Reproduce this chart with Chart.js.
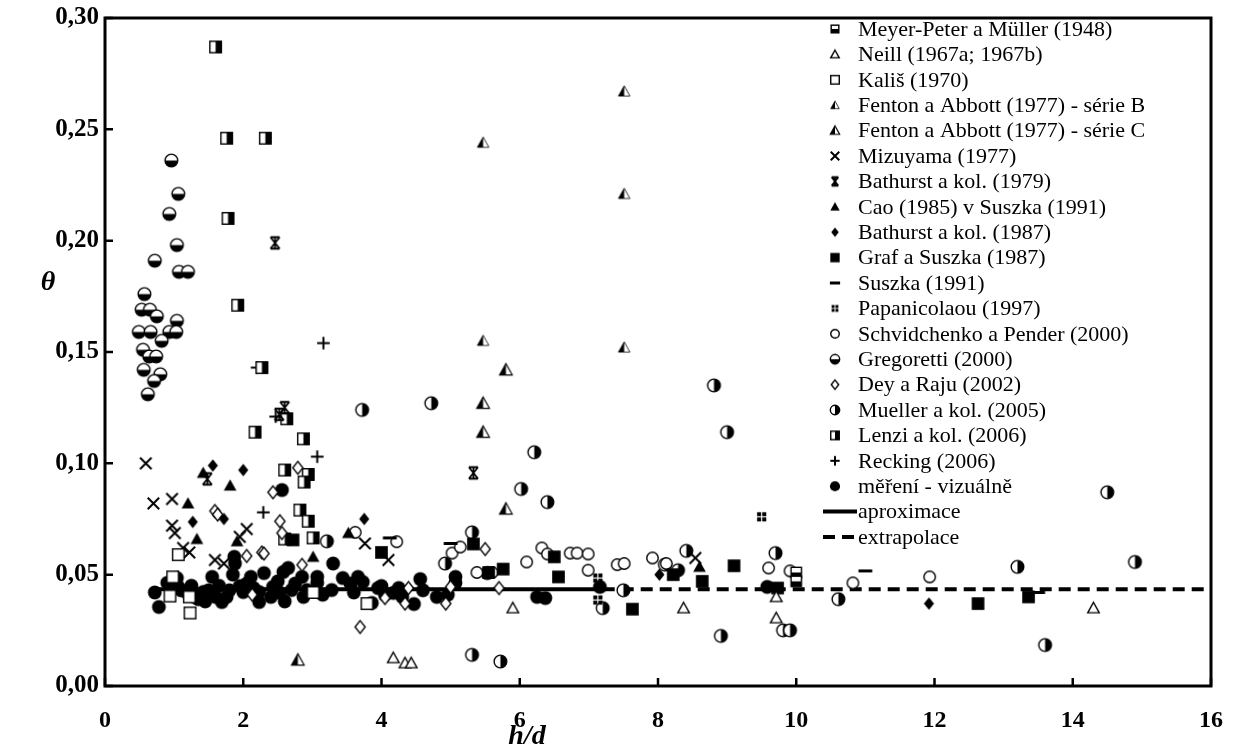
<!DOCTYPE html>
<html>
<head>
<meta charset="utf-8">
<script src="https://cdn.jsdelivr.net/npm/chart.js@4"></script>
<style>
  body { margin: 0; background: #fff; }
  #wrap { width: 1238px; height: 753px; }
</style>
</head>
<body>
<div id="wrap"><canvas id="chart" width="1238" height="753"></canvas></div>
<script>
// data: [h/d, theta]
const meyerPeter = [[10.0, 0.051], [10.0, 0.047]];
const neill = [[4.17, 0.0126], [4.34, 0.0103], [4.43, 0.0103], [5.9, 0.035], [8.37, 0.035], [9.71, 0.040], [9.71, 0.0305], [14.3, 0.035]];
const kalis = [[1.06, 0.059], [0.98, 0.049], [0.94, 0.0404], [1.23, 0.0328], [1.22, 0.040], [3.01, 0.042], [3.79, 0.037]];
const fentonB = [[5.47, 0.244], [7.51, 0.267], [7.51, 0.221], [5.47, 0.155], [7.51, 0.152]];
const fentonC = [[5.8, 0.142], [5.47, 0.127], [5.47, 0.114], [5.8, 0.0795], [2.79, 0.0117]];
const mizuyama = [[0.59, 0.100], [0.70, 0.082], [0.97, 0.084], [0.97, 0.072], [1.01, 0.0687], [1.13, 0.062], [1.22, 0.060], [1.59, 0.0566], [1.72, 0.055], [2.05, 0.0705], [1.95, 0.067], [3.76, 0.064], [4.1, 0.0566], [8.54, 0.0575]];
const bathurst79 = [[2.46, 0.199], [2.6, 0.125], [5.33, 0.0957], [1.48, 0.093], [2.52, 0.122]];
const cao = [[1.42, 0.0957], [1.81, 0.090], [1.2, 0.082], [1.33, 0.066], [1.91, 0.065], [3.01, 0.058], [3.52, 0.0687], [8.6, 0.0535]];
const bathurst87 = [[1.56, 0.099], [2.0, 0.097], [1.27, 0.0737], [1.72, 0.075], [3.75, 0.075], [8.02, 0.050], [11.92, 0.037]];
const grafSuszka = [[2.72, 0.0656], [4.0, 0.060], [5.33, 0.0638], [5.76, 0.0525], [6.5, 0.058], [6.56, 0.049], [7.63, 0.0345], [8.22, 0.050], [9.1, 0.054], [8.64, 0.047], [9.73, 0.044], [12.63, 0.037], [13.36, 0.040], [5.55, 0.051]];
const suszka = [[4.12, 0.0665], [5.0, 0.064], [11.0, 0.0517], [13.5, 0.042]];
const papanicolaou = [[9.5, 0.076], [7.13, 0.0485], [7.13, 0.0386]];
const schvidchenko = [[3.62, 0.069], [4.22, 0.0648], [5.02, 0.0597], [5.14, 0.0624], [5.38, 0.051], [5.6, 0.051], [6.1, 0.0557], [6.32, 0.062], [6.4, 0.0593], [6.73, 0.0597], [6.83, 0.0597], [6.99, 0.0593], [6.99, 0.052], [7.41, 0.0545], [7.51, 0.055], [7.92, 0.0575], [8.12, 0.055], [9.6, 0.053], [9.91, 0.0517], [10.82, 0.0463], [11.93, 0.049]];
const gregoretti = [[0.96, 0.236], [1.06, 0.221], [0.93, 0.212], [1.04, 0.198], [0.72, 0.191], [1.07, 0.186], [1.2, 0.186], [0.57, 0.176], [0.53, 0.169], [0.65, 0.169], [0.75, 0.166], [1.04, 0.164], [0.49, 0.159], [0.66, 0.159], [0.93, 0.159], [1.03, 0.159], [0.82, 0.155], [0.55, 0.151], [0.64, 0.148], [0.74, 0.148], [0.56, 0.142], [0.8, 0.140], [0.71, 0.137], [0.62, 0.131]];
const deyRaju = [[2.79, 0.098], [2.43, 0.087], [1.59, 0.0786], [2.53, 0.074], [2.56, 0.0687], [2.05, 0.0584], [2.27, 0.060], [2.85, 0.0544], [2.13, 0.041], [3.69, 0.0265], [5.5, 0.0615], [4.05, 0.0395], [4.34, 0.037], [4.93, 0.037], [5.0, 0.0445], [4.39, 0.044], [5.7, 0.044], [1.63, 0.077], [2.3, 0.0595]];
const mueller = [[3.72, 0.124], [4.72, 0.127], [6.21, 0.105], [6.02, 0.0885], [6.4, 0.0826], [5.31, 0.069], [4.92, 0.055], [5.31, 0.014], [5.72, 0.011], [3.21, 0.065], [8.81, 0.135], [9.0, 0.114], [8.41, 0.0607], [8.1, 0.0545], [8.29, 0.052], [9.7, 0.0597], [7.5, 0.043], [7.2, 0.035], [8.91, 0.0225], [9.81, 0.025], [9.91, 0.025], [14.5, 0.087], [10.61, 0.039], [13.2, 0.0535], [14.9, 0.0557], [13.6, 0.0184]];
const lenzi = [[1.6, 0.287], [1.76, 0.246], [2.32, 0.246], [1.78, 0.210], [1.92, 0.171], [2.27, 0.143], [2.17, 0.114], [2.87, 0.111], [2.63, 0.120], [2.6, 0.097], [2.94, 0.095], [2.88, 0.0916], [2.82, 0.079], [2.94, 0.074], [2.6, 0.066], [3.01, 0.0665]];
const recking = [[3.16, 0.154], [2.2, 0.143], [2.47, 0.121], [3.07, 0.103], [2.29, 0.078]];
const mereni = [[0.78, 0.0355], [0.9, 0.0463], [1.04, 0.0485], [1.06, 0.0445], [1.19, 0.0418], [1.3, 0.040], [1.42, 0.0422], [1.55, 0.049], [1.6, 0.040], [1.69, 0.0377], [1.76, 0.040], [1.85, 0.050], [1.87, 0.058], [1.88, 0.055], [1.95, 0.0449], [2.0, 0.0422], [2.11, 0.049], [2.23, 0.0422], [2.23, 0.0377], [2.3, 0.0507], [2.43, 0.0445], [2.5, 0.047], [2.53, 0.0418], [2.56, 0.088], [2.58, 0.0512], [2.65, 0.053], [2.7, 0.0431], [2.85, 0.049], [2.87, 0.040], [2.92, 0.0431], [3.07, 0.049], [3.07, 0.0463], [3.28, 0.0431], [3.3, 0.055], [3.44, 0.0485], [3.66, 0.049], [3.73, 0.0467], [3.86, 0.0373], [4.0, 0.0449], [4.17, 0.0418], [4.3, 0.040], [4.47, 0.0368], [4.56, 0.048], [4.8, 0.040], [4.96, 0.041], [5.07, 0.049], [5.07, 0.0463], [5.53, 0.0507], [6.25, 0.040], [6.37, 0.0395], [7.16, 0.0445], [9.58, 0.0445], [1.1, 0.043], [1.5, 0.043], [1.35, 0.039], [1.65, 0.045], [2.15, 0.044], [2.4, 0.040], [0.72, 0.042], [4.05, 0.041], [3.95, 0.044], [4.6, 0.043], [1.25, 0.045], [1.8, 0.043], [2.05, 0.046], [2.75, 0.046], [3.15, 0.041], [3.55, 0.046], [3.6, 0.042], [4.25, 0.044], [1.45, 0.038], [2.6, 0.038]];

// fitted threshold line
const approxX = [0.75, 7.2];
const extrapX = [7.2, 16];
const thetaFit = 0.0435;

const xTicks = [0, 2, 4, 6, 8, 10, 12, 14, 16];
const yTicks = [0, 0.05, 0.10, 0.15, 0.20, 0.25, 0.30];

// small marker images
function marker(type, k) {
  const c = document.createElement("canvas");
  c.width = Math.ceil(16 * k);
  c.height = Math.ceil(16 * k);
  const g = c.getContext("2d");
  const m = c.width / 2;
  g.strokeStyle = "#000";
  g.fillStyle = "#000";
  g.lineWidth = 1.4;
  const circle = (r) => { g.beginPath(); g.arc(m, m, r * k, 0, Math.PI * 2); };
  const tri = (h) => { h *= k; g.beginPath(); g.moveTo(m, m - h); g.lineTo(m + h, m + h * 0.8); g.lineTo(m - h, m + h * 0.8); g.closePath(); };
  const diamond = (h) => { h *= k; g.beginPath(); g.moveTo(m, m - h); g.lineTo(m + h * 0.8, m); g.lineTo(m, m + h); g.lineTo(m - h * 0.8, m); g.closePath(); };
  const sq = (h) => [m - h * k, m - h * k, 2 * h * k, 2 * h * k];

  if (type === "sqHalfBottom") {
    g.fillStyle = "#fff"; g.fillRect(...sq(4.5));
    g.fillStyle = "#000"; g.fillRect(m - 4.5 * k, m, 9 * k, 4.5 * k);
    g.strokeRect(...sq(4.5));
  } else if (type === "triOpen") {
    tri(5); g.fillStyle = "#fff"; g.fill(); g.stroke();
  } else if (type === "sqOpen") {
    g.fillStyle = "#fff"; g.fillRect(...sq(5)); g.strokeRect(...sq(5));
  } else if (type === "triHalfB" || type === "triHalfC") {
    const h = (type === "triHalfB" ? 5 : 5.5);
    tri(h); g.fillStyle = "#fff"; g.fill();
    const hh = h * k;
    g.beginPath(); g.moveTo(m, m - hh); g.lineTo(m, m + hh * 0.8); g.lineTo(m - hh, m + hh * 0.8); g.closePath();
    g.fillStyle = "#000"; g.fill();
    tri(h); g.lineWidth = type === "triHalfB" ? 0.8 : 1.2; g.stroke();
  } else if (type === "cross") {
    const d = 5 * k;
    g.lineWidth = 2;
    g.beginPath(); g.moveTo(m - d, m - d); g.lineTo(m + d, m + d); g.moveTo(m + d, m - d); g.lineTo(m - d, m + d); g.stroke();
  } else if (type === "star") {
    const w = 4 * k, h = 5 * k;
    g.lineWidth = 1.8;
    g.beginPath(); g.moveTo(m - w, m - h); g.lineTo(m + w, m + h); g.moveTo(m + w, m - h); g.lineTo(m - w, m + h);
    g.moveTo(m - w, m - h); g.lineTo(m + w, m - h); g.moveTo(m - w, m + h); g.lineTo(m + w, m + h);
    g.moveTo(m, m - h); g.lineTo(m, m + h); g.stroke();
  } else if (type === "triFill") {
    tri(5.5); g.fill();
  } else if (type === "diamondFill") {
    diamond(5.5); g.fill();
  } else if (type === "sqFill") {
    g.fillRect(...sq(5.5));
  } else if (type === "dash") {
    g.fillRect(m - 6 * k, m - 1.5, 12 * k, 3);
  } else if (type === "quad") {
    const s = 3.5 * k, o = 0.5 * k, e = 4 * k;
    g.fillRect(m - e, m - e, s, s); g.fillRect(m + o, m - e, s, s);
    g.fillRect(m - e, m + o, s, s); g.fillRect(m + o, m + o, s, s);
  } else if (type === "circOpen") {
    circle(5); g.fillStyle = "#fff"; g.fill(); g.stroke();
  } else if (type === "circHalfBottom") {
    circle(5.5); g.fillStyle = "#fff"; g.fill();
    g.beginPath(); g.arc(m, m, 5.5 * k, 0, Math.PI); g.closePath(); g.fillStyle = "#000"; g.fill();
    circle(5.5); g.stroke();
  } else if (type === "diamondOpen") {
    diamond(5.5); g.fillStyle = "#fff"; g.fill(); g.stroke();
  } else if (type === "circHalfRight") {
    circle(5.5); g.fillStyle = "#fff"; g.fill();
    g.beginPath(); g.arc(m, m, 5.5 * k, -Math.PI / 2, Math.PI / 2); g.closePath(); g.fillStyle = "#000"; g.fill();
    circle(5.5); g.stroke();
  } else if (type === "sqHalfRight") {
    g.fillStyle = "#fff"; g.fillRect(...sq(5));
    g.fillStyle = "#000"; g.fillRect(m, m - 5 * k, 5 * k, 10 * k);
    g.strokeRect(...sq(5));
  } else if (type === "plus") {
    const d = 5.5 * k;
    g.lineWidth = 2;
    g.beginPath(); g.moveTo(m - d, m); g.lineTo(m + d, m); g.moveTo(m, m - d); g.lineTo(m, m + d); g.stroke();
  } else if (type === "circFill") {
    circle(6); g.fill();
  }
  return c;
}

const series = [
  ["Meyer-Peter a Müller (1948)", meyerPeter, "sqHalfBottom"],
  ["Neill (1967a; 1967b)", neill, "triOpen"],
  ["Kališ (1970)", kalis, "sqOpen"],
  ["Fenton a Abbott (1977) - série B", fentonB, "triHalfB"],
  ["Fenton a Abbott (1977) - série C", fentonC, "triHalfC"],
  ["Mizuyama (1977)", mizuyama, "cross"],
  ["Bathurst a kol. (1979)", bathurst79, "star"],
  ["Cao (1985) v Suszka (1991)", cao, "triFill"],
  ["Bathurst a kol. (1987)", bathurst87, "diamondFill"],
  ["Graf a Suszka (1987)", grafSuszka, "sqFill"],
  ["Suszka (1991)", suszka, "dash"],
  ["Papanicolaou (1997)", papanicolaou, "quad"],
  ["Schvidchenko a Pender (2000)", schvidchenko, "circOpen"],
  ["Gregoretti (2000)", gregoretti, "circHalfBottom"],
  ["Dey a Raju (2002)", deyRaju, "diamondOpen"],
  ["Mueller a kol. (2005)", mueller, "circHalfRight"],
  ["Lenzi a kol. (2006)", lenzi, "sqHalfRight"],
  ["Recking (2006)", recking, "plus"],
  ["měření - vizuálně", mereni, "circFill"],
];

const datasets = series.map(([label, pts, type]) => ({
  type: "scatter",
  label: label,
  data: pts.map((p) => ({ x: p[0], y: p[1] })),
  pointStyle: marker(type, 1.15),
  legendIcon: marker(type, 0.85),
  pointRadius: 7,
}));

datasets.push({
  type: "line",
  label: "aproximace",
  data: approxX.map((x) => ({ x: x, y: thetaFit })),
  borderColor: "#000",
  borderWidth: 4,
  pointRadius: 0,
});
datasets.push({
  type: "line",
  label: "extrapolace",
  data: extrapX.map((x) => ({ x: x, y: thetaFit })),
  borderColor: "#000",
  borderWidth: 4,
  borderDash: [12, 7],
  pointRadius: 0,
});

// frame, inward ticks, axis titles and the legend
const decorations = {
  id: "decorations",
  afterDraw(chart) {
    const ctx = chart.ctx;
    const a = chart.chartArea;
    const xs = chart.scales.x;
    const ys = chart.scales.y;
    ctx.save();
    ctx.strokeStyle = "#000";
    ctx.lineWidth = 3;
    ctx.strokeRect(a.left, a.top, a.right - a.left, a.bottom - a.top);
    ctx.lineWidth = 2.5;
    ctx.beginPath();
    xTicks.forEach((t) => {
      const px = xs.getPixelForValue(t);
      ctx.moveTo(px, a.bottom);
      ctx.lineTo(px, a.bottom - 8);
    });
    yTicks.forEach((t) => {
      const py = ys.getPixelForValue(t);
      ctx.moveTo(a.left, py);
      ctx.lineTo(a.left + 8, py);
    });
    ctx.stroke();

    ctx.fillStyle = "#000";
    ctx.font = 'italic bold 28px "Liberation Serif"';
    ctx.textAlign = "center";
    ctx.textBaseline = "middle";
    ctx.fillText("θ", 48, 283);
    ctx.fillText("h/d", 527, 737);

    // legend
    ctx.font = '22px "Liberation Serif"';
    ctx.textAlign = "left";
    chart.data.datasets.forEach((ds, i) => {
      const y = 29 + i * 25.4;
      if (ds.type === "scatter") {
        const img = ds.legendIcon;
        ctx.drawImage(img, 835 - img.width / 2, y - img.height / 2);
      } else {
        ctx.lineWidth = 4;
        ctx.setLineDash(ds.borderDash || []);
        ctx.beginPath();
        ctx.moveTo(823, y);
        ctx.lineTo(857, y);
        ctx.stroke();
        ctx.setLineDash([]);
      }
      ctx.fillText(ds.label, 858, y + 1);
    });
    ctx.restore();
  },
};

new Chart(document.getElementById("chart"), {
  data: { datasets: datasets },
  options: {
    responsive: false,
    devicePixelRatio: 1,
    animation: false,
    layout: { padding: { top: 18, right: 27, left: 0, bottom: 0 } },
    plugins: { legend: { display: false }, tooltip: { enabled: false } },
    scales: {
      x: {
        type: "linear",
        min: 0,
        max: 16,
        afterFit: (s) => { s.height = 67; s.paddingLeft = 0; s.paddingRight = 0; },
        afterBuildTicks: (s) => { s.ticks = xTicks.map((v) => ({ value: v })); },
        grid: { display: false, drawTicks: false },
        border: { display: false },
        ticks: {
          padding: 20,
          color: "#000",
          font: { family: "Liberation Serif", size: 24, weight: "bold" },
        },
      },
      y: {
        type: "linear",
        min: 0,
        max: 0.3,
        afterFit: (s) => { s.width = 105; s.paddingTop = 0; s.paddingBottom = 0; },
        afterBuildTicks: (s) => { s.ticks = yTicks.map((v) => ({ value: v })); },
        grid: { display: false, drawTicks: false },
        border: { display: false },
        ticks: {
          padding: 6,
          color: "#000",
          font: { family: "Liberation Serif", size: 25, weight: "bold" },
          callback: (v) => v.toFixed(2).replace(".", ","),
        },
      },
    },
  },
  plugins: [decorations],
});
</script>
</body>
</html>
